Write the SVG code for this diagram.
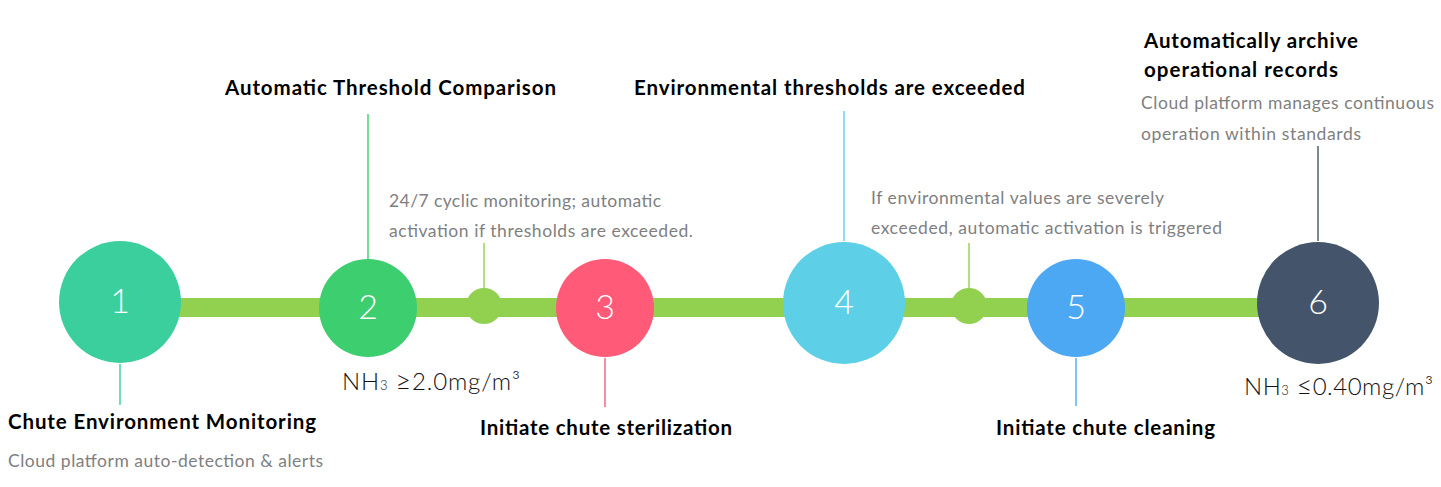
<svg xmlns="http://www.w3.org/2000/svg" width="1441" height="487" viewBox="0 0 1441 487">
<style>
.title{font-family:Lato,"Open Sans","Liberation Sans",sans-serif;font-weight:700;font-size:20.5px;fill:#000}
.desc{font-family:Lato,"Open Sans","Liberation Sans",sans-serif;font-size:17.5px;fill:#7f7f7f}
.num{font-family:Lato,"Open Sans","Liberation Sans",sans-serif;font-weight:300;font-size:34px;fill:#fff;text-anchor:middle}
.nh{font-family:Lato,"Open Sans","Liberation Sans",sans-serif;font-weight:300;font-size:24px;fill:#111}
.lead{stroke-width:1.4;fill:none}
</style>
<rect width="1441" height="487" fill="#fff"/>
<g id="connectors">
<rect x="178" y="298" width="1082" height="19" fill="#92d050"/>
<line class="lead" x1="120" y1="364" x2="120" y2="405" stroke="#3ccf9e"/>
<line class="lead" x1="368" y1="114" x2="368" y2="259" stroke="#3dce70"/>
<line class="lead" x1="484" y1="243" x2="484" y2="288" stroke="#92d050"/>
<line class="lead" x1="605" y1="358" x2="605" y2="407" stroke="#ff5a78"/>
<line class="lead" x1="844" y1="111" x2="844" y2="241" stroke="#5dd0e8"/>
<line class="lead" x1="969" y1="243" x2="969" y2="288" stroke="#92d050"/>
<line class="lead" x1="1076" y1="358" x2="1076" y2="406" stroke="#4da8f4"/>
<line class="lead" x1="1318" y1="146" x2="1318" y2="241" stroke="#44546a"/>
</g>
<g id="node1">
<circle cx="120" cy="302" r="61" fill="#3ccf9e"/>
<text class="num" x="120" y="313">1</text>
<text class="title" x="8" y="429" textLength="308">Chute Environment Monitoring</text>
<text class="desc" x="8" y="467" textLength="315">Cloud platform auto-detection &amp; alerts</text>
</g>
<g id="node2">
<circle cx="368" cy="308" r="49" fill="#3dce70"/>
<text class="num" x="368" y="319">2</text>
<text class="title" x="225" y="95" textLength="331">Automatic Threshold Comparison</text>
<text class="nh" x="342" y="390" textLength="178">NH<tspan font-size="13">3</tspan>  <tspan font-size="27">≥</tspan>2.0mg/m³</text>
</g>
<g id="dot1">
<circle cx="484" cy="306" r="18" fill="#92d050"/>
<text class="desc" x="389" y="207" textLength="272">24/7 cyclic monitoring; automatic</text>
<text class="desc" x="389" y="237" textLength="304">activation if thresholds are exceeded.</text>
</g>
<g id="node3">
<circle cx="605" cy="308" r="49" fill="#ff5a78"/>
<text class="num" x="605" y="319">3</text>
<text class="title" x="480" y="435" textLength="252">Initiate chute sterilization</text>
</g>
<g id="node4">
<circle cx="844" cy="303" r="61" fill="#5dd0e8"/>
<text class="num" x="844" y="314">4</text>
<text class="title" x="634" y="95" textLength="391">Environmental thresholds are exceeded</text>
</g>
<g id="dot2">
<circle cx="969" cy="306" r="18" fill="#92d050"/>
<text class="desc" x="871" y="204" textLength="293">If environmental values are severely</text>
<text class="desc" x="871" y="234" textLength="351">exceeded, automatic activation is triggered</text>
</g>
<g id="node5">
<circle cx="1076" cy="308" r="49" fill="#4da8f4"/>
<text class="num" x="1076" y="319">5</text>
<text class="title" x="996" y="435" textLength="219">Initiate chute cleaning</text>
</g>
<g id="node6">
<circle cx="1318" cy="303" r="61" fill="#44546a"/>
<text class="num" x="1318" y="314">6</text>
<text class="title" x="1144" y="48" textLength="214">Automatically archive</text>
<text class="title" x="1144" y="77" textLength="194">operational records</text>
<text class="desc" x="1141" y="109" textLength="293">Cloud platform manages continuous</text>
<text class="desc" x="1141" y="140" textLength="220">operation within standards</text>
<text class="nh" x="1244" y="395" textLength="189">NH<tspan font-size="13">3</tspan>  <tspan font-size="27">≤</tspan>0.40mg/m³</text>
</g>
</svg>
